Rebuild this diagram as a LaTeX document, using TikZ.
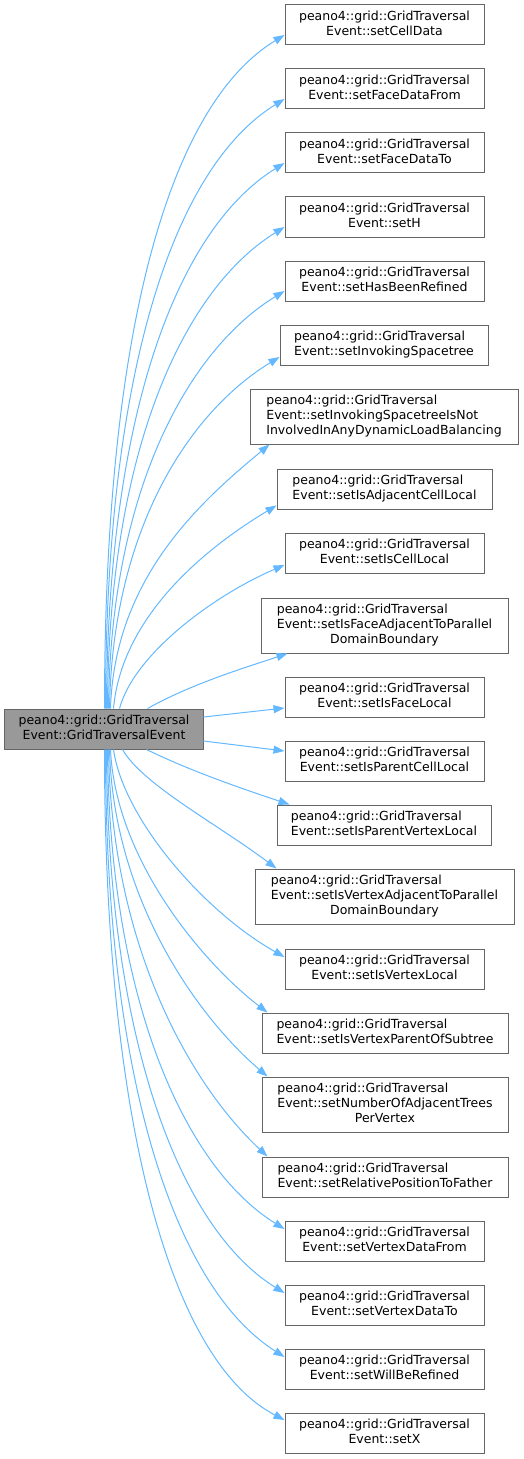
\documentclass[tikz,border=0pt]{standalone}
\usepackage{fontspec}
\setmainfont{DejaVu Sans}
\usepackage{xcolor}
\usetikzlibrary{arrows.meta}

\definecolor{callblue}{HTML}{63B8FF}
\definecolor{boxgrey}{HTML}{666666}
\definecolor{focusgrey}{HTML}{999999}

% two- and three-line member labels
\newcommand{\evtwo}[1]{\begin{tabular}{@{}l@{}}peano4::grid::GridTraversal\\\multicolumn{1}{@{}c@{}}{Event::#1}\end{tabular}}
\newcommand{\evthree}[2]{\begin{tabular}{@{}l@{}}peano4::grid::GridTraversal\\Event::#1\\\multicolumn{1}{@{}c@{}}{#2}\end{tabular}}

\begin{document}
\begin{tikzpicture}[x=1bp,y=-1bp,
		fn/.style={draw=boxgrey,line width=1bp,fill=white,inner sep=0pt,
			minimum width=199bp,minimum height=40bp,
			font=\fontsize{12.5bp}{15bp}\selectfont},
		call/.style={callblue,line width=1bp,-{Triangle[length=11bp,width=8bp]}}]
			
			\useasboundingbox (0,0) rectangle (524,1459);
			
			% caller
			\node[fn,fill=focusgrey,minimum width=198bp] (src) at (104,729) {\evtwo{GridTraversalEvent}};
			
			% callees
			\node[fn] (setCellData) at (384.5,25) {\evtwo{setCellData}};
			\node[fn] (setFaceDataFrom) at (384.5,89) {\evtwo{setFaceDataFrom}};
			\node[fn] (setFaceDataTo) at (384.5,153) {\evtwo{setFaceDataTo}};
			\node[fn] (setH) at (384.5,217) {\evtwo{setH}};
			\node[fn] (setHasBeenRefined) at (384.5,281) {\evtwo{setHasBeenRefined}};
			\node[fn,minimum width=208bp] (setInvoking) at (384,345) {\evtwo{setInvokingSpacetree}};
			\node[fn,minimum width=268bp,minimum height=55bp] (setInvokingNot) at (384,416.5)
				{\evthree{setInvokingSpacetreeIsNot}{InvolvedInAnyDynamicLoadBalancing}};
			\node[fn,minimum width=215bp] (setIsAdjCell) at (384.5,489) {\evtwo{setIsAdjacentCellLocal}};
			\node[fn] (setIsCellLocal) at (384.5,553) {\evtwo{setIsCellLocal}};
			\node[fn,minimum width=247bp,minimum height=55bp] (setIsFaceAdj) at (384.5,625.5)
				{\evthree{setIsFaceAdjacentToParallel}{DomainBoundary}};
			\node[fn] (setIsFaceLocal) at (384.5,697) {\evtwo{setIsFaceLocal}};
			\node[fn] (setIsParentCell) at (384.5,761) {\evtwo{setIsParentCellLocal}};
			\node[fn,minimum width=214bp] (setIsParentVertex) at (384,825) {\evtwo{setIsParentVertexLocal}};
			\node[fn,minimum width=259bp,minimum height=55bp] (setIsVertexAdj) at (384.5,896.5)
				{\evthree{setIsVertexAdjacentToParallel}{DomainBoundary}};
			\node[fn] (setIsVertexLocal) at (384.5,969) {\evtwo{setIsVertexLocal}};
			\node[fn,minimum width=246bp] (setIsVertexParent) at (385,1033) {\evtwo{setIsVertexParentOfSubtree}};
			\node[fn,minimum width=246bp,minimum height=55bp] (setNumberTrees) at (385,1104.5)
				{\evthree{setNumberOfAdjacentTrees}{PerVertex}};
			\node[fn,minimum width=246bp] (setRelative) at (385,1177) {\evtwo{setRelativePositionToFather}};
			\node[fn] (setVertexDataFrom) at (384.5,1241) {\evtwo{setVertexDataFrom}};
			\node[fn] (setVertexDataTo) at (384.5,1305) {\evtwo{setVertexDataTo}};
			\node[fn] (setWillBeRefined) at (384.5,1369) {\evtwo{setWillBeRefined}};
			\node[fn] (setX) at (384.5,1433) {\evtwo{setX}};
			
			% calls going up
			\draw[call] ([xshift=100bp]src.north west) .. controls +(0,-380) and +(-115,70) .. ([yshift=-10bp]setCellData.west);
			\draw[call] ([xshift=101bp]src.north west) .. controls +(0,-340) and +(-110,68) .. ([yshift=-10bp]setFaceDataFrom.west);
			\draw[call] ([xshift=102bp]src.north west) .. controls +(1,-300) and +(-105,65) .. ([yshift=-10bp]setFaceDataTo.west);
			\draw[call] ([xshift=103bp]src.north west) .. controls +(1,-260) and +(-100,62) .. ([yshift=-10bp]setH.west);
			\draw[call] ([xshift=104bp]src.north west) .. controls +(2,-220) and +(-95,58) .. ([yshift=-10bp]setHasBeenRefined.west);
			\draw[call] ([xshift=105bp]src.north west) .. controls +(3,-180) and +(-90,55) .. ([yshift=-12bp]setInvoking.west);
			\draw[call] ([xshift=106bp]src.north west) .. controls +(4,-130) and +(-70,58) .. ([xshift=20bp]setInvokingNot.south west);
			\draw[call] ([xshift=109bp]src.north west) .. controls +(8,-90) and +(-75,45) .. ([yshift=4bp]setIsAdjCell.south west);
			\draw[call] ([xshift=115bp]src.north west) .. controls +(15,-55) and +(-70,30) .. ([yshift=-12bp]setIsCellLocal.west);
			\draw[call] ([xshift=143bp]src.north west) .. controls +(45,-25) and +(-45,15) .. ([xshift=27bp]setIsFaceAdj.south west);
			
			% calls to the right
			\draw[call] ([yshift=12bp]src.east) -- ([yshift=-11bp]setIsFaceLocal.west);
			\draw[call] ([yshift=-12bp]src.east) -- ([yshift=10bp]setIsParentCell.west);
			
			% calls going down
			\draw[call] ([xshift=142bp]src.south west) .. controls +(45,22) and +(-45,-15) .. ([xshift=13bp]setIsParentVertex.north west);
			\draw[call] ([xshift=118bp]src.south west) .. controls +(20,35) and +(-60,-45) .. ([xshift=22bp]setIsVertexAdj.north west);
			\draw[call] ([xshift=109bp]src.south west) .. controls +(10,70) and +(-80,-45) .. ([yshift=12bp]setIsVertexLocal.west);
			\draw[call] ([xshift=106bp]src.south west) .. controls +(5,110) and +(-65,-50) .. ([xshift=6bp]setIsVertexParent.north west);
			\draw[call] ([xshift=105bp]src.south west) .. controls +(4,150) and +(-70,-60) .. ([xshift=6bp]setNumberTrees.north west);
			\draw[call] ([xshift=104bp]src.south west) .. controls +(3,200) and +(-75,-70) .. ([xshift=6bp]setRelative.north west);
			\draw[call] ([xshift=103bp]src.south west) .. controls +(2,250) and +(-100,-62) .. ([yshift=12bp]setVertexDataFrom.west);
			\draw[call] ([xshift=102bp]src.south west) .. controls +(1,290) and +(-105,-65) .. ([yshift=12bp]setVertexDataTo.west);
			\draw[call] ([xshift=101bp]src.south west) .. controls +(0,330) and +(-110,-70) .. ([yshift=12bp]setWillBeRefined.west);
			\draw[call] ([xshift=100bp]src.south west) .. controls +(0,370) and +(-115,-60) .. ([yshift=13bp]setX.west);
			
		\end{tikzpicture}
\end{document}
